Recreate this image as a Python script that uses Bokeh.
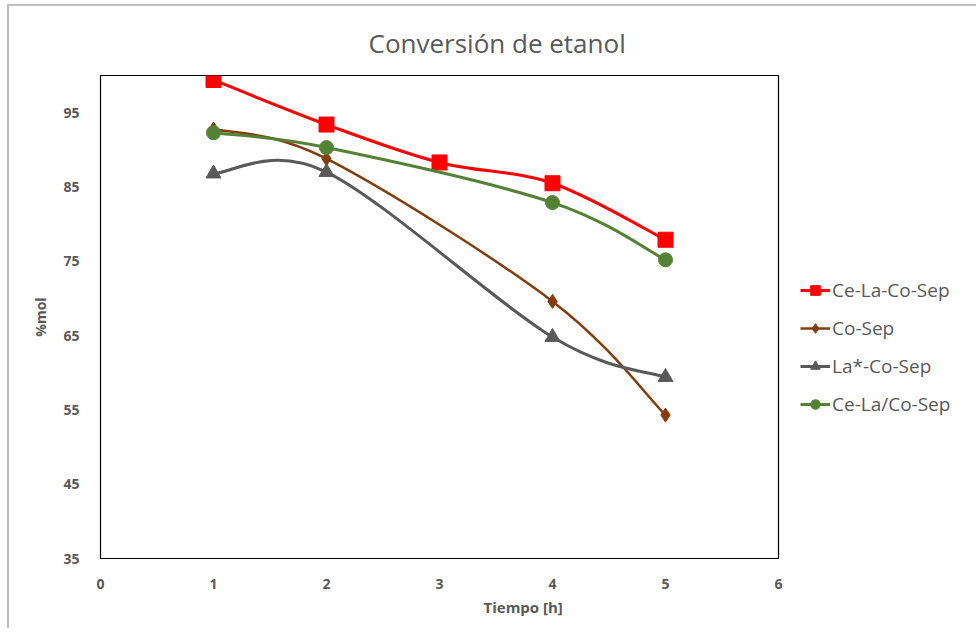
from bokeh.plotting import figure
from bokeh.models import Legend, LegendItem, Title, FixedTicker, ColumnDataSource
from bokeh.embed import file_html
from bokeh.resources import INLINE

# ---- data ----
tiempo_red = [1, 2, 3, 4, 5]
ce_la_co_sep = [99.4, 93.4, 88.3, 85.5, 77.9]

tiempo_4 = [1, 2, 4, 5]
co_sep = [92.8, 88.8, 69.6, 54.3]
la_co_sep = [86.8, 87.0, 64.8, 59.4]
ce_la_co_sep2 = [92.3, 90.3, 82.9, 75.2]

series_names = ["Ce-La-Co-Sep", "Co-Sep", "La*-Co-Sep", "Ce-La/Co-Sep"]
series_colors = ["#FF0000", "#843C0C", "#595959", "#548235"]
series_markers = ["square", "diamond", "triangle", "circle"]
series_sizes = [15, 14, 15, 14]
series_widths = [3, 2.5, 3, 3]

x_ticks = [0, 1, 2, 3, 4, 5, 6]
y_ticks = [35, 45, 55, 65, 75, 85, 95]

FONT = "Open Sans"
GREY = "#595959"


def smooth_segments(xs, ys):
    """Excel-like smoothing: cubic Bezier segments with Catmull-Rom control points."""
    n = len(xs)
    seg = dict(x0=[], y0=[], x1=[], y1=[], cx0=[], cy0=[], cx1=[], cy1=[])
    for i in range(n - 1):
        p0 = (xs[i - 1], ys[i - 1]) if i > 0 else (xs[i], ys[i])
        p1 = (xs[i], ys[i])
        p2 = (xs[i + 1], ys[i + 1])
        p3 = (xs[i + 2], ys[i + 2]) if i + 2 < n else (xs[i + 1], ys[i + 1])
        seg["x0"].append(p1[0]); seg["y0"].append(p1[1])
        seg["x1"].append(p2[0]); seg["y1"].append(p2[1])
        seg["cx0"].append(p1[0] + (p2[0] - p0[0]) / 6.0)
        seg["cy0"].append(p1[1] + (p2[1] - p0[1]) / 6.0)
        seg["cx1"].append(p2[0] - (p3[0] - p1[0]) / 6.0)
        seg["cy1"].append(p2[1] - (p3[1] - p1[1]) / 6.0)
    return seg


p = figure(frame_width=678, frame_height=483, x_range=(0, 6), y_range=(35, 100),
           output_backend="svg", toolbar_location=None,
           min_border_left=91, min_border_right=180, min_border_top=69, min_border_bottom=70)

p.styles = {"margin-left": "7px", "margin-top": "4px",
            "border-left": "2px solid #BFBFBF", "border-top": "2px solid #BFBFBF"}

p.title.text = "Conversión de etanol"
p.title.align = "left"
p.title.offset = 268
p.title.standoff = 29
p.title.text_font = FONT
p.title.text_font_style = "normal"
p.title.text_font_size = "26px"
p.title.text_color = GREY

p.grid.visible = False
p.outline_line_color = "black"
p.outline_line_width = 1.2

for ax in (p.xaxis, p.yaxis):
    ax.major_tick_line_color = None
    ax.minor_tick_line_color = None
    ax.axis_line_color = None
    ax.major_label_text_font = FONT
    ax.major_label_text_font_style = "bold"
    ax.major_label_text_font_size = "14px"
    ax.major_label_text_color = GREY

p.xaxis.ticker = FixedTicker(ticks=x_ticks)
p.yaxis.ticker = FixedTicker(ticks=y_ticks)
p.xaxis.major_label_standoff = 14
p.yaxis.major_label_standoff = 15

p.yaxis.axis_label = "%mol"
p.yaxis.axis_label_text_font = FONT
p.yaxis.axis_label_text_font_style = "bold"
p.yaxis.axis_label_text_font_size = "14px"
p.yaxis.axis_label_text_color = GREY
p.yaxis.axis_label_standoff = 10

xs_list = [tiempo_red, tiempo_4, tiempo_4, tiempo_4]
ys_list = [ce_la_co_sep, co_sep, la_co_sep, ce_la_co_sep2]

items = []
for name, xs, ys, col, mk, sz, lw in zip(series_names, xs_list, ys_list, series_colors,
                                         series_markers, series_sizes, series_widths):
    seg = smooth_segments(xs, ys)
    r_line = p.bezier(source=ColumnDataSource(seg), x0="x0", y0="y0", x1="x1", y1="y1",
                      cx0="cx0", cy0="cy0", cx1="cx1", cy1="cy1",
                      line_color=col, line_width=lw)
    r_pts = p.scatter(xs, ys, marker=mk, size=sz, fill_color=col, line_color=col)
    items.append(LegendItem(label=name, renderers=[r_line, r_pts]))

legend = Legend(items=items, location="center_left", orientation="vertical")
legend.title = " "
legend.title_text_font_size = "20px"
legend.title_standoff = 37
legend.border_line_color = None
legend.background_fill_alpha = 0
legend.padding = 0
legend.margin = 22
legend.glyph_width = 30
legend.glyph_height = 24
legend.label_height = 24
legend.spacing = 12
legend.label_standoff = 2
legend.label_text_font = FONT
legend.label_text_font_size = "19px"
legend.label_text_color = GREY
p.add_layout(legend, "right")

xlab = Title(text="Tiempo [h]", align="left", offset=383, standoff=6,
             text_font=FONT, text_font_style="bold", text_font_size="15px",
             text_color=GREY)
p.add_layout(xlab, "below")

open("out.html", "w").write(file_html(p, INLINE))
